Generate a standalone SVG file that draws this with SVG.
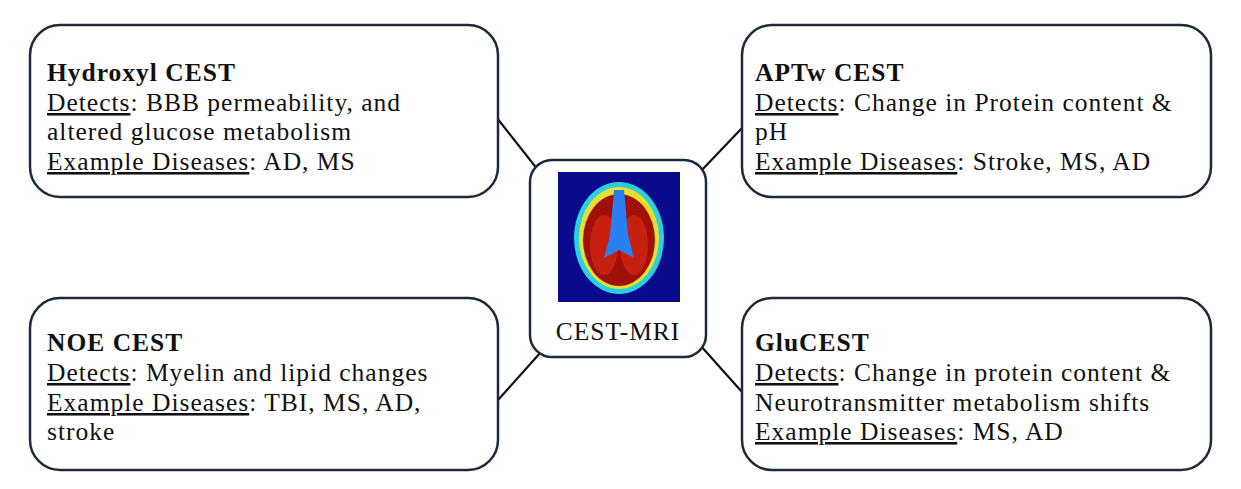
<svg xmlns="http://www.w3.org/2000/svg" width="1241" height="489" viewBox="0 0 1241 489">
<style>
.box{fill:#fff;stroke:#1b2b3b;stroke-width:2.5}
text{font-family:"Liberation Serif",serif;font-size:25.5px;letter-spacing:1px;fill:#111}
.t{font-weight:bold}
.u{text-decoration:underline}
.c line{stroke:#111;stroke-width:2.2}
</style>
<rect width="1241" height="489" fill="#fff"/>
<g class="c" id="connectors">
<line x1="497" y1="118" x2="538" y2="170"/>
<line x1="742" y1="128" x2="700" y2="172"/>
<line x1="498" y1="400" x2="541" y2="352"/>
<line x1="700" y1="345" x2="742" y2="392"/>
</g>
<g id="hydroxyl"><rect class="box" x="30" y="25" width="468" height="172" rx="30"/>
<text x="47" y="81" class="t">Hydroxyl CEST</text>
<text x="47" y="111"><tspan class="u">Detects</tspan>: BBB permeability, and</text>
<text x="47" y="140">altered glucose metabolism</text>
<text x="47" y="170"><tspan class="u">Example Diseases</tspan>: AD, MS</text></g>
<g id="aptw"><rect class="box" x="742" y="25" width="469" height="172" rx="30"/>
<text x="755" y="81" class="t">APTw CEST</text>
<text x="755" y="111"><tspan class="u">Detects</tspan>: Change in Protein content &amp;</text>
<text x="755" y="140">pH</text>
<text x="755" y="170"><tspan class="u">Example Diseases</tspan>: Stroke, MS, AD</text></g>
<g id="noe"><rect class="box" x="30" y="298" width="468" height="172" rx="30"/>
<text x="47" y="351" class="t">NOE CEST</text>
<text x="47" y="381"><tspan class="u">Detects</tspan>: Myelin and lipid changes</text>
<text x="47" y="411"><tspan class="u">Example Diseases</tspan>: TBI, MS, AD,</text>
<text x="47" y="440">stroke</text></g>
<g id="glu"><rect class="box" x="742" y="298" width="469" height="172" rx="30"/>
<text x="755" y="351" class="t">GluCEST</text>
<text x="755" y="381"><tspan class="u">Detects</tspan>: Change in protein content &amp;</text>
<text x="755" y="411">Neurotransmitter metabolism shifts</text>
<text x="755" y="440"><tspan class="u">Example Diseases</tspan>: MS, AD</text></g>
<g id="center"><rect class="box" x="530" y="160" width="176" height="197" rx="22"/>
<rect x="558" y="172" width="122" height="130" fill="#0a0a8c"/>
<ellipse cx="619" cy="238" rx="45" ry="56" fill="#2ad0e0"/>
<ellipse cx="619" cy="238" rx="40" ry="51" fill="#e8e030"/>
<ellipse cx="619" cy="240" rx="36" ry="46" fill="#a01008"/>
<ellipse cx="604" cy="245" rx="14" ry="30" fill="#c82010"/>
<ellipse cx="634" cy="245" rx="14" ry="30" fill="#c82010"/>
<path d="M614 190 L624 190 L628 235 L634 258 L619 250 L604 258 L610 235 Z" fill="#2a80f0"/>
<text x="618" y="340" text-anchor="middle" letter-spacing="0">CEST-MRI</text></g>
</svg>
